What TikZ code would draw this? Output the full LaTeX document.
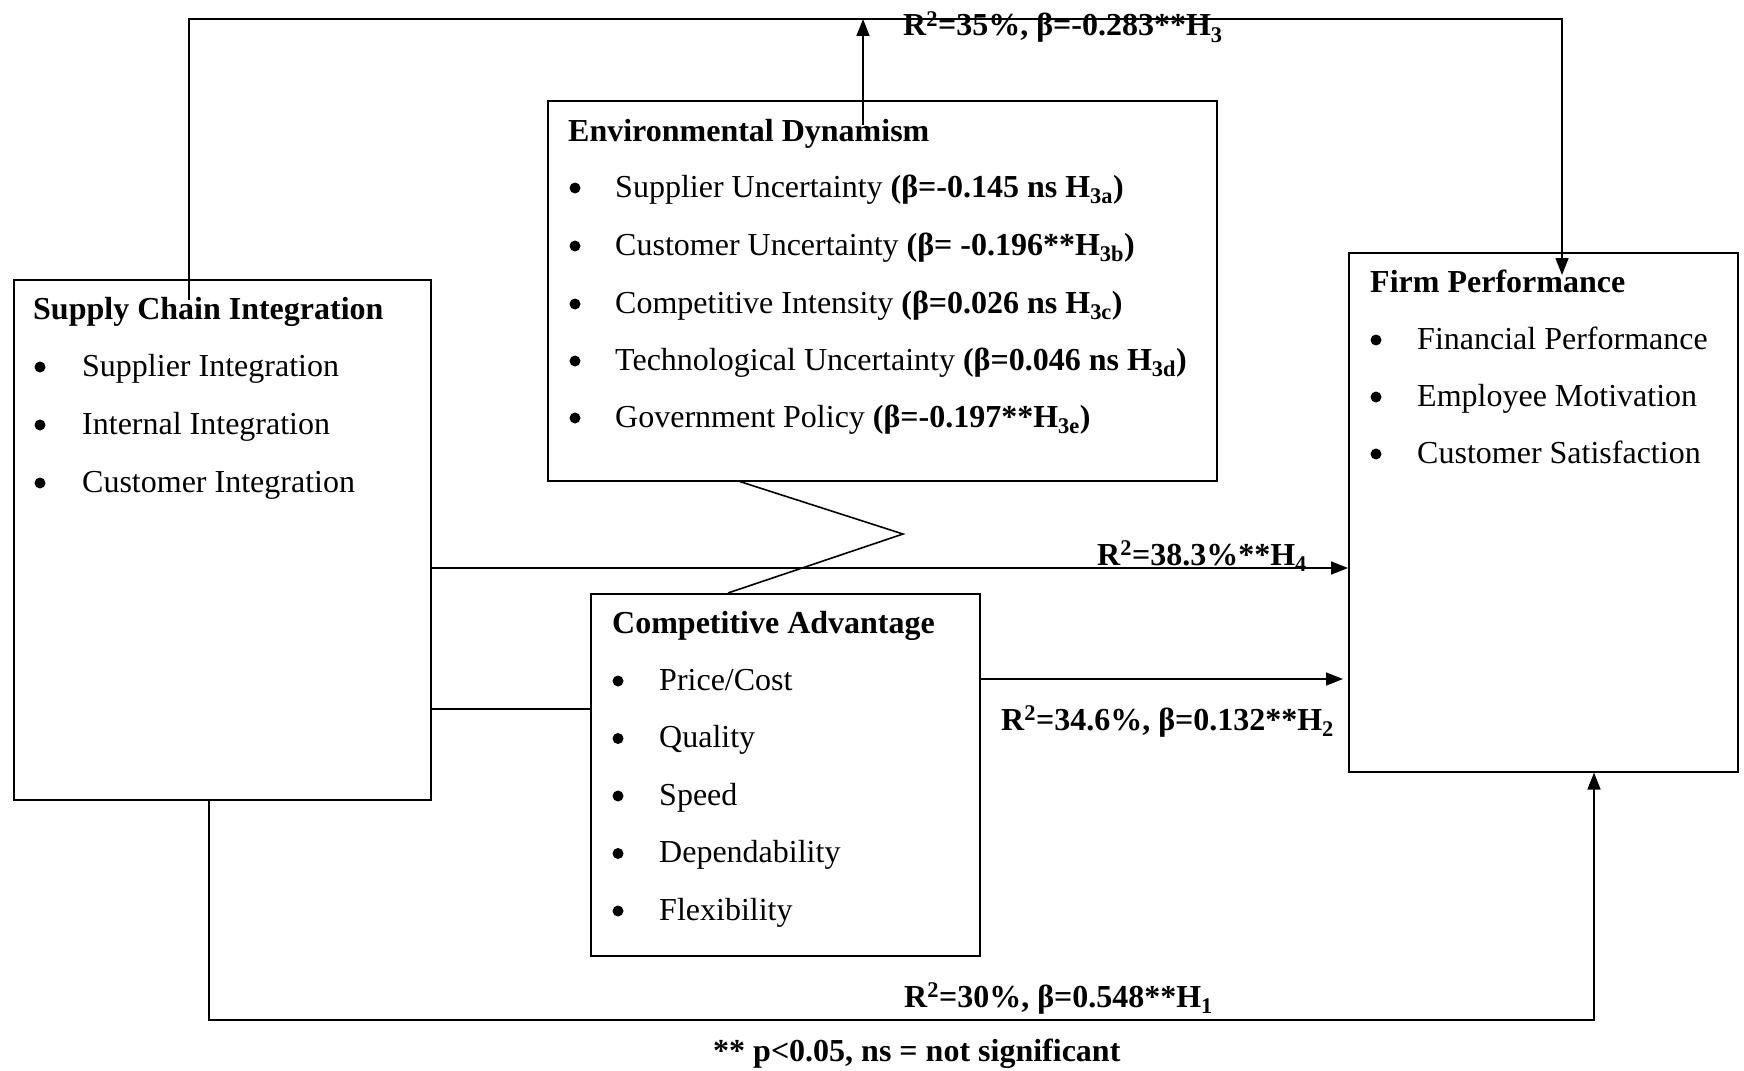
\documentclass[tikz,border=0pt]{standalone}
\usepackage{fontspec}
\setmainfont{Liberation Serif}
\usetikzlibrary{arrows.meta}

\tikzset{
  box/.style={draw, line width=1.6pt, inner sep=0pt, anchor=north west},
  conn/.style={line width=1.6pt},
  arr/.style={conn, -{Triangle[length=17pt,width=13pt]}},
  txt/.style={inner sep=0pt, anchor=base west},
  bul/.style={circle, fill, inner sep=0pt, minimum size=11pt, yshift=9pt},
  ttl/.style={txt, font=\fontsize{32}{38}\selectfont\bfseries},
  lbl/.style={txt, font=\fontsize{32}{38}\selectfont\bfseries},
}

\begin{document}
\begin{tikzpicture}[x=1pt, y=-1pt, font=\fontsize{32}{38}\selectfont]
\useasboundingbox (0,0) rectangle (1744,1070);

% construct boxes
\node[box, minimum width=417pt, minimum height=520pt] (sci) at (13,279) {};
\node[box, minimum width=669pt, minimum height=380pt] (ed)  at (547,100) {};
\node[box, minimum width=389pt, minimum height=362pt] (ca)  at (590,593) {};
\node[box, minimum width=389pt, minimum height=519pt] (fp)  at (1348,252) {};

% Supply Chain Integration
\node[ttl] (sciT) at (33,319) {Supply Chain Integration};
\foreach \t [count=\i] in {Supplier Integration, Internal Integration, Customer Integration}{
  \pgfmathsetmacro{\yy}{376+58*(\i-1)}
  \node[bul] (sciB\i) at (40,\yy) {};
  \node[txt] (sciI\i) at (82,\yy) {\t};
}

% Environmental Dynamism
\node[ttl] (edT) at (568,141) {Environmental Dynamism};
\node[bul] (edB1) at (575,197) {};
\node[txt] (edI1) at (615,197) {Supplier Uncertainty \textbf{(β=-0.145 ns H\textsubscript{3a})}};
\node[bul] (edB2) at (575,255) {};
\node[txt] (edI2) at (615,255) {Customer Uncertainty \textbf{(β= -0.196**H\textsubscript{3b})}};
\node[bul] (edB3) at (575,313) {};
\node[txt] (edI3) at (615,313) {Competitive Intensity \textbf{(β=0.026 ns H\textsubscript{3c})}};
\node[bul] (edB4) at (575,370) {};
\node[txt] (edI4) at (615,370) {Technological Uncertainty \textbf{(β=0.046 ns H\textsubscript{3d})}};
\node[bul] (edB5) at (575,427) {};
\node[txt] (edI5) at (615,427) {Government Policy \textbf{(β=-0.197**H\textsubscript{3e})}};

% Competitive Advantage
\node[ttl] (caT) at (612,633) {Competitive Advantage};
\foreach \t [count=\i] in {Price/Cost, Quality, Speed, Dependability, Flexibility}{
  \pgfmathsetmacro{\yy}{690+57.5*(\i-1)}
  \node[bul] (caB\i) at (618,\yy) {};
  \node[txt] (caI\i) at (659,\yy) {\t};
}

% Firm Performance
\node[ttl] (fpT) at (1370,292) {Firm Performance};
\foreach \t [count=\i] in {Financial Performance, Employee Motivation, Customer Satisfaction}{
  \pgfmathsetmacro{\yy}{349+57*(\i-1)}
  \node[bul] (fpB\i) at (1376,\yy) {};
  \node[txt] (fpI\i) at (1417,\yy) {\t};
}

% connector end points
\coordinate (topY) at (0,19);
\coordinate (sciUp) at (189,300);
\coordinate (fpIn) at (1562,275);
\coordinate (edUp) at (863,125);
\coordinate (zz) at (903,534);
\coordinate (h1a) at (209,1020);
\coordinate (h1b) at (1594,1020);

% H3: moderation path over the top
\draw[arr] (sciUp) -- (sciUp |- topY) -| (fpIn);
\draw[arr] (edUp) -- (edUp |- topY);

% link between the two middle boxes
\draw[conn] (ed.south -| 740,0) -- (zz) -- (ca.north -| 728,0);

% H4
\draw[arr] (sci.east |- 0,568) -- (fp.west |- 0,568);
% SCI to CA
\draw[conn] (sci.east |- 0,709) -- (ca.west |- 0,709);
% H2
\draw[arr, shorten >=5pt] (ca.east |- 0,679) -- (fp.west |- 0,679);
% H1
\draw[arr] (sci.south -| h1a) -- (h1a) -- (h1b) -- (fp.south -| h1b);

% path labels
\node[lbl] (lH3) at (903,36) {R\textsuperscript{2}=35\%, β=-0.283**H\textsubscript{3}};
\node[lbl] (lH4) at (1097,565) {R\textsuperscript{2}=38.3\%**H\textsubscript{4}};
\node[lbl] (lH2) at (1001,730) {R\textsuperscript{2}=34.6\%, β=0.132**H\textsubscript{2}};
\node[lbl] (lH1) at (904,1007) {R\textsuperscript{2}=30\%, β=0.548**H\textsubscript{1}};
\node[lbl] (note) at (713,1061) {** p<0.05, ns = not significant};
\end{tikzpicture}
\end{document}
